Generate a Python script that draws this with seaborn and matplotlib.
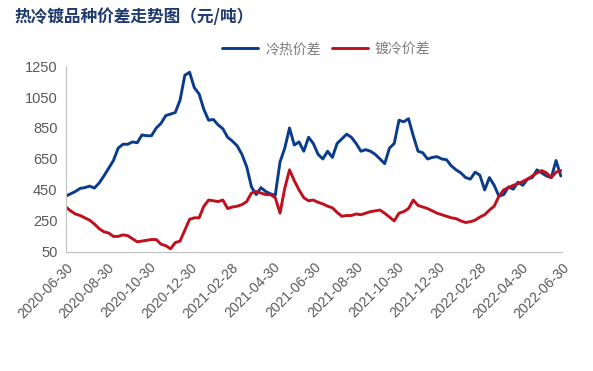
import numpy as np
import pandas as pd
import matplotlib
matplotlib.use("Agg")
import matplotlib.pyplot as plt
import matplotlib.dates as mdates
import seaborn as sns

# weekly samples, 2020-06-30 .. 2022-06-28
dates = pd.date_range("2020-06-30", periods=105, freq="7D")

cold_hot = [410, 425, 440, 460, 465, 475, 462, 495, 540, 590,
            640, 720, 745, 745, 760, 755, 805, 800, 800, 850,
            880, 930, 940, 950, 1030, 1190, 1210, 1110, 1070, 970,
            900, 905, 870, 845, 790, 765, 735, 680, 600, 470,
            420, 465, 440, 425, 415, 630, 720, 850, 740, 760,
            700, 790, 750, 680, 650, 700, 660, 750, 780, 810,
            790, 750, 700, 710, 700, 680, 650, 620, 720, 750,
            900, 890, 910, 800, 700, 690, 650, 660, 665, 650,
            645, 605, 580, 560, 530, 520, 565, 545, 450, 530,
            480, 410, 420, 470, 455, 500, 480, 520, 530, 580,
            560, 540, 530, 640, 540]

galv_cold = [340, 315, 295, 285, 270, 255, 230, 200, 180, 172,
             150, 150, 160, 155, 135, 115, 120, 125, 130, 130,
             100, 90, 70, 110, 120, 190, 260, 270, 270, 345,
             385, 380, 375, 385, 330, 340, 345, 355, 375, 430,
             440, 430, 420, 420, 400, 300, 460, 580, 510, 450,
             400, 380, 385, 370, 360, 345, 335, 305, 280, 285,
             285, 295, 290, 300, 310, 315, 320, 300, 275, 250,
             300, 310, 330, 385, 350, 340, 330, 315, 300, 290,
             280, 270, 265, 250, 240, 245, 255, 275, 290, 320,
             345, 410, 450, 465, 480, 490, 505, 520, 540, 560,
             575, 560, 530, 565, 575]

series_names = ["冷热价差", "镀冷价差"]
tick_dates = ["2020-06-30", "2020-08-30", "2020-10-30", "2020-12-30",
              "2021-02-28", "2021-04-30", "2021-06-30", "2021-08-30",
              "2021-10-30", "2021-12-30", "2022-02-28", "2022-04-30",
              "2022-06-30"]
y_ticks = [50, 250, 450, 650, 850, 1050, 1250]

df = pd.DataFrame({"date": list(dates) * 2,
                   "value": cold_hot + galv_cold,
                   "series": [series_names[0]] * len(dates) + [series_names[1]] * len(dates)})

sns.set_style("white")
plt.rcParams["font.family"] = ["Liberation Sans", "Noto Sans CJK SC", "DejaVu Sans"]

fig = plt.figure(figsize=(5.93, 3.71), dpi=100)
ax = fig.add_axes([0.111, 0.321, 0.837, 0.501])

sns.lineplot(data=df, x="date", y="value", hue="series", ax=ax,
             palette=["#0B3C8C", "#C0101E"], linewidth=2.1, legend=True)

ax.set_ylim(50, 1250)
ax.set_yticks(y_ticks)
ax.set_xlim(pd.Timestamp("2020-06-30"), pd.Timestamp("2022-06-30"))
ax.set_xticks(pd.to_datetime(tick_dates))
ax.xaxis.set_major_formatter(mdates.DateFormatter("%Y-%m-%d"))
ax.set_xlabel("")
ax.set_ylabel("")

for s in ["top", "right"]:
    ax.spines[s].set_visible(False)
for s in ["left", "bottom"]:
    ax.spines[s].set_color("#BFBFBF")
    ax.spines[s].set_linewidth(0.8)

ax.tick_params(axis="x", colors="#BFBFBF", length=4, width=0.8, direction="out",
               labelcolor="#595959", labelsize=10, pad=2)
ax.tick_params(axis="y", colors="#BFBFBF", length=4, width=0.8, direction="out",
               labelcolor="#595959", labelsize=10.5, pad=2)
plt.setp(ax.get_xticklabels(), rotation=45, ha="right", rotation_mode="anchor")

handles, labels = ax.get_legend_handles_labels()
ax.legend(handles, labels, loc="lower center", bbox_to_anchor=(0.525, 0.985), ncol=2,
          frameon=False, prop={"family": "Noto Sans CJK SC", "size": 10},
          labelcolor="#7F7F7F", handlelength=2.6, columnspacing=0.8, handletextpad=0.5)

fig.text(0.024, 0.94, "热冷镀品种价差走势图（元/吨）", fontsize=12, fontweight="bold",
         color="#1F3A6E", family="Noto Sans CJK SC")

fig.savefig("out.png", dpi=100)
